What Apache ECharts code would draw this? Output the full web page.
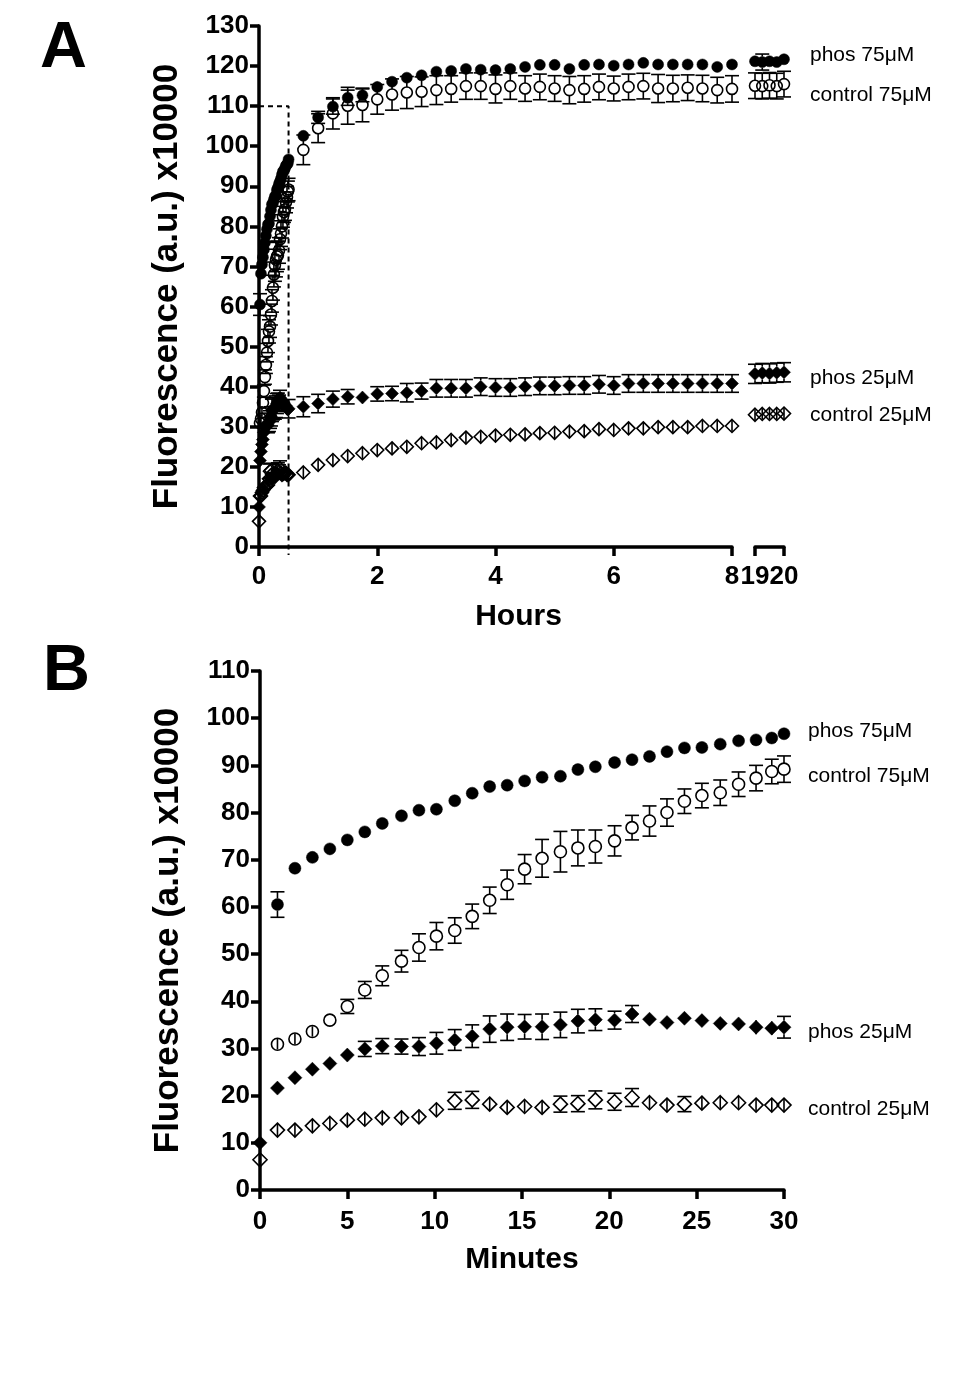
<!DOCTYPE html>
<html><head><meta charset="utf-8">
<script src="https://cdn.jsdelivr.net/npm/echarts@6/dist/echarts.min.js"></script>
<style>html,body{margin:0;padding:0;background:#fff}#c{width:975px;height:1382px}</style>
</head><body><div id="c"></div>
<script>
// ---------- Panel B data (minutes 0-30) ----------
const minutesB = [0,1,2,3,4,5,6,7,8.1,9.1,10.1,11.15,12.15,13.15,14.15,15.15,16.15,17.2,18.2,19.2,20.3,21.3,22.3,23.3,24.3,25.3,26.35,27.4,28.4,29.3,30];
const phos75B = [null,60.5,68.2,70.5,72.3,74.2,75.9,77.7,79.3,80.5,80.7,82.5,84.1,85.5,85.8,86.7,87.5,87.7,89.1,89.7,90.6,91.2,91.9,92.9,93.7,93.8,94.5,95.2,95.4,95.8,96.7];
const phos75BErr = [null,2.7,0.8,0.8,0.8,0.8,0.8,0.8,0.8,0.8,0.8,0.8,0.8,0.8,0.8,0.8,0.8,0.8,0.8,0.8,0.8,0.8,0.8,0.8,0.8,0.8,0.8,0.8,0.8,0.8,0.8];
const control75B = [null,30.9,32.0,33.6,36.0,38.9,42.4,45.4,48.5,51.4,53.8,55.0,58.0,61.4,64.7,68.0,70.3,71.7,72.5,72.8,74.0,76.8,78.2,80.0,82.4,83.6,84.2,86.0,87.3,88.7,89.2];
const control75BErr = [null,1.1,1.1,1.1,0,1.5,1.8,2.1,2.3,2.9,2.9,2.7,2.6,2.8,3.1,3.1,4.0,4.3,3.8,3.5,3.2,2.6,3.2,2.9,2.6,2.6,2.7,2.6,2.7,2.6,2.8];
const phos25B = [10.0,21.6,23.8,25.6,26.8,28.6,29.9,30.5,30.4,30.4,31.1,31.8,32.6,34.1,34.5,34.6,34.6,35.0,35.8,36.1,36.0,37.3,36.2,35.5,36.4,35.9,35.3,35.2,34.5,34.3,34.5];
const phos25BErr = [0.8,0.8,0.8,0.8,0.8,1.3,1.6,1.6,1.6,1.9,2.3,2.2,2.4,2.8,2.8,2.6,2.7,2.7,2.5,2.3,1.9,1.8,0.8,0.8,0.8,0.8,0.8,0.8,1.5,1.4,2.3];
const control25B = [6.4,12.7,12.7,13.6,14.1,14.8,15.0,15.3,15.3,15.5,17.0,18.9,19.1,18.2,17.5,17.7,17.5,18.2,18.3,19.1,18.7,19.6,18.5,18.0,18.2,18.4,18.5,18.5,18.0,18.0,18.0];
const control25BErr = [1.2,1.3,1.3,1.3,1.3,1.3,1.3,1.3,1.3,1.3,1.3,1.8,1.8,1.3,1.3,1.3,1.3,1.7,1.7,1.9,1.8,1.9,1.3,1.3,1.6,1.3,1.3,1.3,1.3,1.3,1.3];

// ---------- Panel A data (hours 0.75-8, then 19-20) ----------
const hoursA = [0.75,1,1.25,1.5,1.75,2,2.25,2.5,2.75,3,3.25,3.5,3.75,4,4.25,4.5,4.75,5,5.25,5.5,5.75,6,6.25,6.5,6.75,7,7.25,7.5,7.75,8];
const phos75A = [102.6,107.2,109.9,112.1,112.7,114.8,116.1,117.1,117.7,118.6,118.8,119.3,119.1,119.0,119.3,119.8,120.3,120.3,119.3,120.3,120.4,120.1,120.4,120.8,120.4,120.4,120.4,120.4,119.8,120.4];
const phos75AErr = [1.2,1.5,1.9,1.9,1.6,1.3,1.1,1.0,1.0,1.0,1.0,1.0,1.0,1.0,1.0,1.0,1.0,1.0,1.0,1.0,1.0,1.0,1.0,1.0,1.0,1.0,1.0,1.0,1.0,1.0];
const control75A = [99.1,104.5,108.2,110.1,110.3,111.7,112.9,113.4,113.6,114.0,114.3,115.0,115.0,114.3,115.0,114.4,114.8,114.4,114.0,114.3,114.8,114.4,114.8,115.0,114.4,114.4,114.6,114.4,114.0,114.3];
const control75AErr = [3.7,3.6,3.9,4.6,4.2,3.7,3.9,4.0,3.7,3.6,3.3,3.3,3.3,3.5,3.3,3.2,3.2,3.2,3.4,3.3,3.2,3.1,3.2,3.2,3.5,3.3,3.2,3.3,3.2,3.3];
const phos25A = [35.0,35.8,36.9,37.5,37.3,38.2,38.3,38.5,38.9,39.6,39.6,39.6,40.0,39.8,39.8,40.0,40.2,40.2,40.3,40.3,40.6,40.3,40.8,40.8,40.8,40.8,40.8,40.8,40.8,40.8];
const phos25AErr = [2.5,2.3,2.0,1.8,1.4,1.8,1.8,2.3,2.0,2.2,2.2,2.2,2.2,2.2,2.2,2.2,2.2,2.2,2.2,2.2,2.2,2.2,2.2,2.2,2.2,2.2,2.2,2.2,2.2,2.2];
const control25A = [18.6,20.5,21.7,22.7,23.4,24.2,24.6,25.0,25.9,26.1,26.7,27.3,27.5,27.8,28.0,28.1,28.4,28.5,28.8,28.9,29.4,29.2,29.6,29.6,29.9,29.9,29.9,30.2,30.2,30.2];
const control25AErr = [1.4,1.4,1.4,1.4,1.4,1.4,1.4,1.4,1.4,1.4,1.4,1.4,1.4,1.4,1.4,1.4,1.4,1.4,1.4,1.4,1.4,1.4,1.4,1.4,1.4,1.4,1.4,1.4,1.4,1.4];

const hoursEnd = [19,19.25,19.5,19.75,20];
const phos75End = [121.2,121.0,121.2,121.0,121.7];
const phos75EndErr = [1.0,2.0,1.0,1.0,1.0];
const control75End = [115.1,115.0,115.2,115.0,115.5];
const control75EndErr = [3.2,3.2,3.2,3.2,3.2];
const phos25End = [43.2,43.4,43.3,43.5,43.6];
const phos25EndErr = [2.4,2.4,2.4,2.4,2.4];
const control25End = [33.0,33.2,33.2,33.2,33.3];
const control25EndErr = [1.4,1.4,1.4,1.4,1.4];

// dashed guide box in panel A (hours, fluorescence)
const guideA = [[0,110],[0.5,110],[0.5,-2]];

// tick settings
const yTicksA = {min:0, max:130, interval:10};
const yTicksB = {min:0, max:110, interval:10};
const xTicksA = {min:0, max:8, interval:2};
const xTicksAEnd = {min:19, max:20, interval:1};
const xTicksB = {min:0, max:30, interval:5};

const seriesNames = ['phos 75\u03bcM','control 75\u03bcM','phos 25\u03bcM','control 25\u03bcM'];

// ---------- build ----------
const FONT = '"Liberation Sans", Arial, Helvetica, sans-serif';
const minToHour = m => m / 60;
const hoursEarly = minutesB.map(minToHour);

function pts(xs, ys, es) {
  const out = [];
  xs.forEach((x, i) => { if (ys[i] != null) out.push(es ? [x, ys[i], es[i]] : [x, ys[i]]); });
  return out;
}

function markerSeries(name, data, xi, yi, symbol, size, filled) {
  return {
    name, type: 'scatter', xAxisIndex: xi, yAxisIndex: yi, data,
    symbol, symbolSize: size, z: 3, silent: true,
    itemStyle: filled ? {color: '#000', borderColor: '#000', borderWidth: 0.5, opacity: 1}
                      : {color: 'rgba(255,255,255,0)', borderColor: '#000', borderWidth: 1.6, opacity: 1}
  };
}

function errSeries(data, xi, yi, r) {
  const cap = 7;
  return {
    type: 'custom', xAxisIndex: xi, yAxisIndex: yi, data, z: 4, silent: true,
    encode: {x: 0, y: 1},
    renderItem: function (params, api) {
      const x = api.value(0), y = api.value(1), e = api.value(2);
      const c = api.coord([x, y]);
      const t = api.coord([x, y + e]);
      const b = api.coord([x, y - e]);
      const ep = c[1] - t[1];
      const st = {stroke: '#000', lineWidth: 1.6, fill: null};
      const ch = [];
      if (ep > r + 0.5) {
        ch.push({type: 'line', shape: {x1: c[0], y1: c[1] - r, x2: c[0], y2: t[1]}, style: st});
        ch.push({type: 'line', shape: {x1: c[0], y1: c[1] + r, x2: c[0], y2: b[1]}, style: st});
        ch.push({type: 'line', shape: {x1: c[0] - cap, y1: t[1], x2: c[0] + cap, y2: t[1]}, style: st});
        ch.push({type: 'line', shape: {x1: c[0] - cap, y1: b[1], x2: c[0] + cap, y2: b[1]}, style: st});
      } else if (ep > 0) {
        ch.push({type: 'line', shape: {x1: c[0], y1: c[1] - ep, x2: c[0], y2: c[1] + ep}, style: st});
      }
      return {type: 'group', children: ch};
    }
  };
}

const styles = [
  {symbol: 'circle', filled: true},
  {symbol: 'circle', filled: false},
  {symbol: 'diamond', filled: true},
  {symbol: 'diamond', filled: false}
];

const series = [];
// dashed guide
series.push({type: 'line', xAxisIndex: 0, yAxisIndex: 0, data: guideA, symbol: 'none', clip: false, silent: true, z: 2,
  lineStyle: {color: '#000', width: 2, type: [5, 4]}});

const aSets = [
  [phos75B, phos75BErr, phos75A, phos75AErr, phos75End, phos75EndErr],
  [control75B, control75BErr, control75A, control75AErr, control75End, control75EndErr],
  [phos25B, phos25BErr, phos25A, phos25AErr, phos25End, phos25EndErr],
  [control25B, control25BErr, control25A, control25AErr, control25End, control25EndErr]
];
const bSets = [
  [phos75B, phos75BErr], [control75B, control75BErr], [phos25B, phos25BErr], [control25B, control25BErr]
];

aSets.forEach((s, k) => {
  const st = styles[k];
  const sizeA = st.symbol === 'circle' ? 11 : 13;
  const rA = sizeA / 2;
  const main = pts(hoursEarly, s[0], s[1]).concat(pts(hoursA, s[2], s[3]));
  const end = pts(hoursEnd, s[4], s[5]);
  series.push(markerSeries(seriesNames[k], main.map(d => [d[0], d[1]]), 0, 0, st.symbol, sizeA, st.filled));
  series.push(errSeries(main, 0, 0, rA));
  series.push(markerSeries(seriesNames[k], end.map(d => [d[0], d[1]]), 1, 1, st.symbol, sizeA, st.filled));
  series.push(errSeries(end, 1, 1, rA));
});

bSets.forEach((s, k) => {
  const st = styles[k];
  const sizeB = st.symbol === 'circle' ? 12 : 14;
  const d = pts(minutesB, s[0], s[1]);
  series.push(markerSeries(seriesNames[k], d.map(p => [p[0], p[1]]), 2, 2, st.symbol, sizeB, st.filled));
  series.push(errSeries(d, 2, 2, sizeB / 2));
});

const axisLine = {show: true, lineStyle: {color: '#000', width: 3.5}};
const axisTick = {show: true, length: 9, lineStyle: {color: '#000', width: 3.5}};
const tickLabel = (m) => ({color: '#000', fontSize: 26, fontWeight: 'bold', fontFamily: FONT, margin: m});
const nameStyle = {color: '#000', fontSize: 30, fontWeight: 'bold', fontFamily: FONT};
const yNameStyle = {color: '#000', fontSize: 35, fontWeight: 'bold', fontFamily: FONT};

const option = {
  animation: false,
  backgroundColor: '#fff',
  textStyle: {fontFamily: FONT},
  grid: [
    {left: 259, top: 26, width: 473, height: 521},
    {left: 755, top: 26, width: 29, height: 521},
    {left: 260, top: 671, width: 524, height: 519}
  ],
  xAxis: [
    Object.assign({type: 'value', gridIndex: 0, axisLine, axisTick, splitLine: {show: false},
      axisLabel: tickLabel(17), name: 'Hours', nameLocation: 'middle', nameGap: 55,
      nameTextStyle: Object.assign({padding: [0, 0, 0, 46]}, nameStyle)}, xTicksA),
    Object.assign({type: 'value', gridIndex: 1, axisLine, axisTick, splitLine: {show: false},
      axisLabel: tickLabel(17)}, xTicksAEnd),
    Object.assign({type: 'value', gridIndex: 2, axisLine, axisTick, splitLine: {show: false},
      axisLabel: tickLabel(19), name: 'Minutes', nameLocation: 'middle', nameGap: 55,
      nameTextStyle: nameStyle}, xTicksB)
  ],
  yAxis: [
    Object.assign({type: 'value', gridIndex: 0, axisLine, axisTick, splitLine: {show: false},
      axisLabel: tickLabel(10), name: 'Fluorescence (a.u.) x10000', nameLocation: 'middle', nameGap: 74,
      nameTextStyle: yNameStyle}, yTicksA),
    Object.assign({type: 'value', gridIndex: 1, show: false, splitLine: {show: false}}, yTicksA),
    Object.assign({type: 'value', gridIndex: 2, axisLine, axisTick, splitLine: {show: false},
      axisLabel: tickLabel(10), name: 'Fluorescence (a.u.) x10000', nameLocation: 'middle', nameGap: 74,
      nameTextStyle: yNameStyle}, yTicksB)
  ],
  series,
  graphic: [
    {type: 'text', x: 40, y: 49, style: {text: 'A', font: 'bold 65px ' + FONT, fill: '#000', textAlign: 'left', textVerticalAlign: 'middle', align: 'left', verticalAlign: 'middle'}},
    {type: 'text', x: 43, y: 672, style: {text: 'B', font: 'bold 65px ' + FONT, fill: '#000', textAlign: 'left', textVerticalAlign: 'middle', align: 'left', verticalAlign: 'middle'}},
    {type: 'text', x: 810, y: 55, style: {text: seriesNames[0], font: '21px ' + FONT, fill: '#000', textAlign: 'left', textVerticalAlign: 'middle', align: 'left', verticalAlign: 'middle'}},
    {type: 'text', x: 810, y: 95, style: {text: seriesNames[1], font: '21px ' + FONT, fill: '#000', textAlign: 'left', textVerticalAlign: 'middle', align: 'left', verticalAlign: 'middle'}},
    {type: 'text', x: 810, y: 378, style: {text: seriesNames[2], font: '21px ' + FONT, fill: '#000', textAlign: 'left', textVerticalAlign: 'middle', align: 'left', verticalAlign: 'middle'}},
    {type: 'text', x: 810, y: 415, style: {text: seriesNames[3], font: '21px ' + FONT, fill: '#000', textAlign: 'left', textVerticalAlign: 'middle', align: 'left', verticalAlign: 'middle'}},
    {type: 'text', x: 808, y: 731, style: {text: seriesNames[0], font: '21px ' + FONT, fill: '#000', textAlign: 'left', textVerticalAlign: 'middle', align: 'left', verticalAlign: 'middle'}},
    {type: 'text', x: 808, y: 776, style: {text: seriesNames[1], font: '21px ' + FONT, fill: '#000', textAlign: 'left', textVerticalAlign: 'middle', align: 'left', verticalAlign: 'middle'}},
    {type: 'text', x: 808, y: 1032, style: {text: seriesNames[2], font: '21px ' + FONT, fill: '#000', textAlign: 'left', textVerticalAlign: 'middle', align: 'left', verticalAlign: 'middle'}},
    {type: 'text', x: 808, y: 1109, style: {text: seriesNames[3], font: '21px ' + FONT, fill: '#000', textAlign: 'left', textVerticalAlign: 'middle', align: 'left', verticalAlign: 'middle'}}
  ]
};

const chart = echarts.init(document.getElementById('c'), null, {renderer: 'canvas'});
chart.setOption(option);
</script>
</body></html>
